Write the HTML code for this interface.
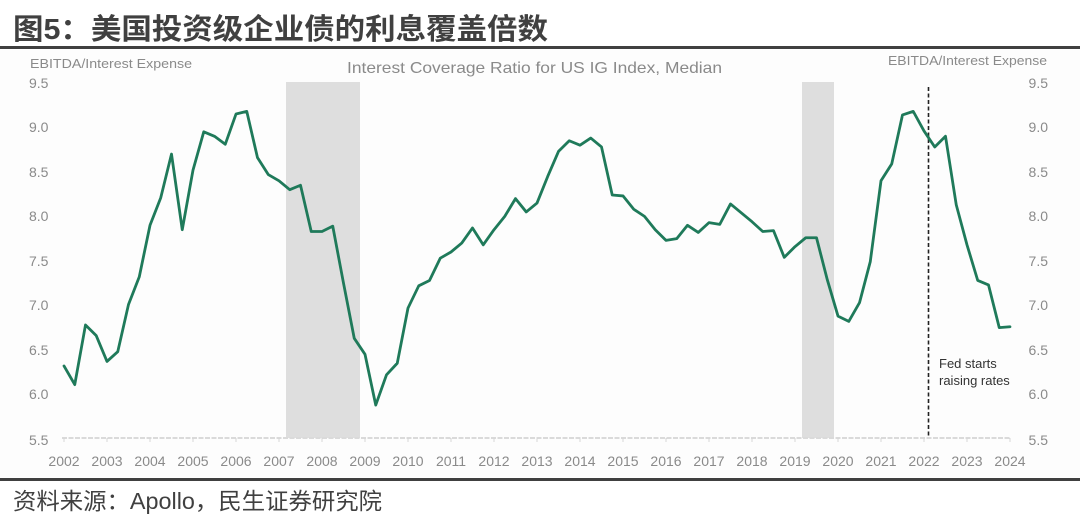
<!DOCTYPE html>
<html>
<head>
<meta charset="utf-8">
<style>
  html, body { margin:0; padding:0; background:#ffffff; }
  svg { display:block; }
  .lbl { font-family:"Liberation Sans","DejaVu Sans",sans-serif; fill:#8a8a8a; }
</style>
</head>
<body>
<svg width="1080" height="524" viewBox="0 0 1080 524" xmlns="http://www.w3.org/2000/svg">
  <rect x="0" y="0" width="1080" height="524" fill="#ffffff"/>
  <!-- chart area background -->
  <rect x="0" y="50" width="1080" height="427" fill="#fdfdfd"/>

  <!-- Title -->
  <text x="13" y="39" font-family="'Liberation Sans','Noto Sans CJK SC',sans-serif" font-weight="bold" font-size="29" fill="#404040" textLength="535" lengthAdjust="spacingAndGlyphs">图5：美国投资级企业债的利息覆盖倍数</text>
  <rect x="0" y="46" width="1080" height="3" fill="#404040"/>

  <!-- recession bands -->
  <rect x="286" y="82" width="74" height="356" fill="#dedede"/>
  <rect x="802" y="82" width="32" height="356" fill="#dedede"/>

  <!-- axis -->
  <line x1="62" y1="438" x2="1010" y2="438" stroke="#dadada" stroke-width="2" stroke-dasharray="5 1.5"/>
  <g stroke="#d6d6d6" stroke-width="1">
    <line x1="64" y1="438" x2="64" y2="442"/><line x1="107" y1="438" x2="107" y2="442"/><line x1="150" y1="438" x2="150" y2="442"/><line x1="193" y1="438" x2="193" y2="442"/><line x1="236" y1="438" x2="236" y2="442"/><line x1="279" y1="438" x2="279" y2="442"/><line x1="322" y1="438" x2="322" y2="442"/><line x1="365" y1="438" x2="365" y2="442"/><line x1="408" y1="438" x2="408" y2="442"/><line x1="451" y1="438" x2="451" y2="442"/><line x1="494" y1="438" x2="494" y2="442"/><line x1="537" y1="438" x2="537" y2="442"/><line x1="580" y1="438" x2="580" y2="442"/><line x1="623" y1="438" x2="623" y2="442"/><line x1="666" y1="438" x2="666" y2="442"/><line x1="709" y1="438" x2="709" y2="442"/><line x1="752" y1="438" x2="752" y2="442"/><line x1="795" y1="438" x2="795" y2="442"/><line x1="838" y1="438" x2="838" y2="442"/><line x1="881" y1="438" x2="881" y2="442"/><line x1="924" y1="438" x2="924" y2="442"/><line x1="967" y1="438" x2="967" y2="442"/><line x1="1010" y1="438" x2="1010" y2="442"/>
  </g>

  <!-- dashed fed line -->
  <line x1="928.5" y1="87" x2="928.5" y2="438" stroke="#222222" stroke-width="1.6" stroke-dasharray="4 2.5"/>

  <!-- data line -->
  <g transform="translate(64,438) scale(10.75,-89) translate(0,-5.5)">
    <polyline fill="none" stroke="#1f7a5a" stroke-width="2.8" stroke-linejoin="round" stroke-linecap="round" vector-effect="non-scaling-stroke"
      points="0,6.31 1,6.10 2,6.77 3,6.65 4,6.36 5,6.47 6,7.00 7,7.31 8,7.89 9,8.20 10,8.69 11,7.84 12,8.51 13,8.94 14,8.89 15,8.80 16,9.14 17,9.17 18,8.65 19,8.46 20,8.39 21,8.29 22,8.34 23,7.82 24,7.82 25,7.88 26,7.24 27,6.62 28,6.44 29,5.87 30,6.21 31,6.34 32,6.96 33,7.21 34,7.27 35,7.52 36,7.59 37,7.69 38,7.86 39,7.67 40,7.84 41,7.99 42,8.19 43,8.04 44,8.14 45,8.44 46,8.72 47,8.84 48,8.79 49,8.87 50,8.77 51,8.23 52,8.22 53,8.07 54,7.99 55,7.84 56,7.72 57,7.74 58,7.89 59,7.81 60,7.92 61,7.90 62,8.13 63,8.03 64,7.93 65,7.82 66,7.83 67,7.53 68,7.65 69,7.75 70,7.75 71,7.28 72,6.87 73,6.81 74,7.02 75,7.48 76,8.39 77,8.58 78,9.13 79,9.17 80,8.95 81,8.77 82,8.89 83,8.12 84,7.67 85,7.27 86,7.22 87,6.74 88,6.75"/>
  </g>

  <!-- axis titles -->
  <text class="lbl" x="30" y="68" font-size="13" textLength="162" lengthAdjust="spacingAndGlyphs">EBITDA/Interest Expense</text>
  <text class="lbl" x="888" y="65" font-size="13" textLength="159" lengthAdjust="spacingAndGlyphs">EBITDA/Interest Expense</text>
  <text class="lbl" x="347" y="73" font-size="16" fill="#7a7a7a" textLength="375" lengthAdjust="spacingAndGlyphs">Interest Coverage Ratio for US IG Index, Median</text>

  <!-- left y labels -->
  <g class="lbl" font-size="14">
    <text x="29" y="88">9.5</text>
    <text x="29" y="132">9.0</text>
    <text x="29" y="177">8.5</text>
    <text x="29" y="221">8.0</text>
    <text x="29" y="266">7.5</text>
    <text x="29" y="310">7.0</text>
    <text x="29" y="355">6.5</text>
    <text x="29" y="399">6.0</text>
    <text x="29" y="445">5.5</text>
  </g>
  <!-- right y labels -->
  <g class="lbl" font-size="14" text-anchor="end">
    <text x="1048" y="88">9.5</text>
    <text x="1048" y="132">9.0</text>
    <text x="1048" y="177">8.5</text>
    <text x="1048" y="221">8.0</text>
    <text x="1048" y="266">7.5</text>
    <text x="1048" y="310">7.0</text>
    <text x="1048" y="355">6.5</text>
    <text x="1048" y="399">6.0</text>
    <text x="1048" y="445">5.5</text>
  </g>

  <!-- x labels -->
  <g class="lbl" font-size="14" text-anchor="middle">
    <text x="64" y="466">2002</text><text x="107" y="466">2003</text><text x="150" y="466">2004</text><text x="193" y="466">2005</text><text x="236" y="466">2006</text><text x="279" y="466">2007</text><text x="322" y="466">2008</text><text x="365" y="466">2009</text><text x="408" y="466">2010</text><text x="451" y="466">2011</text><text x="494" y="466">2012</text><text x="537" y="466">2013</text><text x="580" y="466">2014</text><text x="623" y="466">2015</text><text x="666" y="466">2016</text><text x="709" y="466">2017</text><text x="752" y="466">2018</text><text x="795" y="466">2019</text><text x="838" y="466">2020</text><text x="881" y="466">2021</text><text x="924" y="466">2022</text><text x="967" y="466">2023</text><text x="1010" y="466">2024</text>
  </g>

  <!-- annotation -->
  <g font-family="'Liberation Sans',sans-serif" font-size="13" fill="#333333">
    <text x="939" y="368">Fed starts</text>
    <text x="939" y="385">raising rates</text>
  </g>

  <!-- bottom rule and source -->
  <rect x="0" y="478" width="1080" height="3" fill="#404040"/>
  <text x="13" y="509" font-family="'Liberation Sans','Noto Sans CJK SC',sans-serif" font-size="23" fill="#404040" textLength="369" lengthAdjust="spacingAndGlyphs">资料来源：Apollo，民生证券研究院</text>
</svg>
</body>
</html>
